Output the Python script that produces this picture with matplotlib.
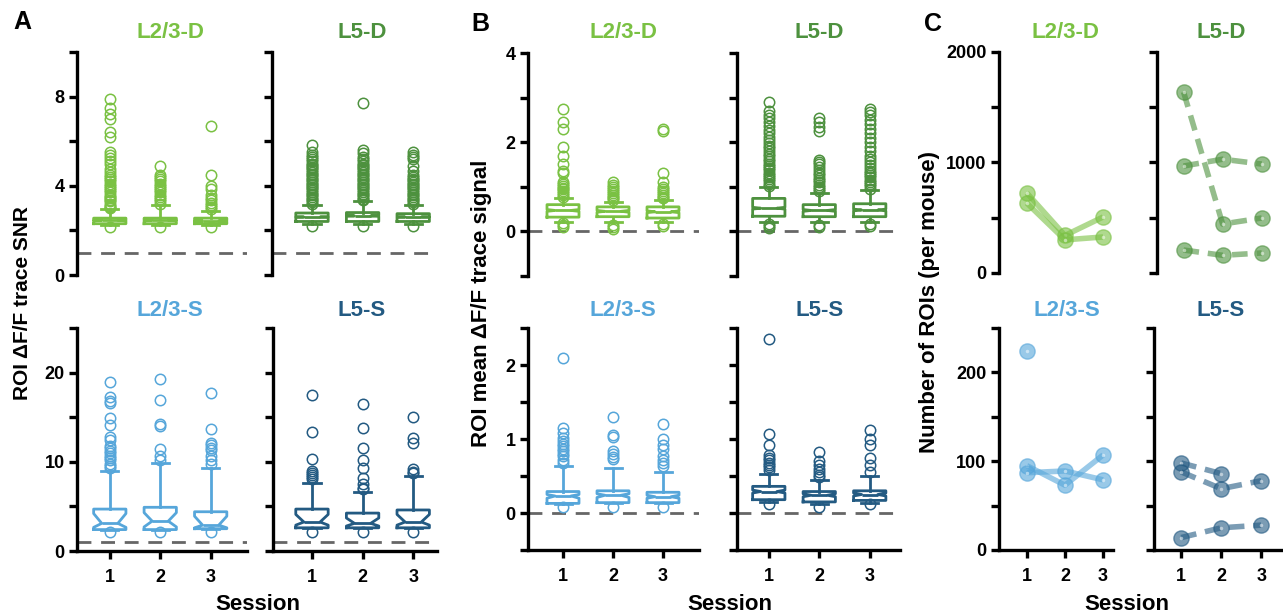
import matplotlib
matplotlib.use('Agg')
import matplotlib.pyplot as plt
from matplotlib.ticker import MultipleLocator

plt.rcParams['font.family'] = ['Liberation Sans', 'DejaVu Sans']
plt.rcParams['font.weight'] = 'bold'
plt.rcParams['axes.labelweight'] = 'bold'

W, H = 1283, 615
sessions = [1, 2, 3]
groups = ['L2/3-D', 'L5-D', 'L2/3-S', 'L5-S']
colors = {'L2/3-D': '#7AC143', 'L5-D': '#4D913E', 'L2/3-S': '#56A6DA', 'L5-S': '#235A82'}

# box stats per session: whislo, q1, cilo, med, cihi, q3, whishi
snr_l23d = [[2.25, 2.3, 2.43, 2.45, 2.47, 2.55, 2.95],
            [2.25, 2.3, 2.43, 2.45, 2.47, 2.55, 3.15],
            [2.25, 2.3, 2.40, 2.42, 2.44, 2.55, 2.85]]
snr_l5d = [[2.3, 2.4, 2.58, 2.6, 2.62, 2.78, 3.15],
           [2.3, 2.4, 2.63, 2.65, 2.67, 2.8, 3.3],
           [2.3, 2.4, 2.58, 2.6, 2.62, 2.75, 3.15]]
snr_l23s = [[2.4, 2.4, 2.65, 3.1, 4.2, 4.7, 9.0],
            [2.4, 2.4, 2.7, 3.35, 4.3, 4.9, 9.9],
            [2.5, 2.5, 2.6, 2.9, 3.9, 4.4, 9.35]]
snr_l5s = [[2.6, 2.6, 2.9, 3.25, 4.1, 4.7, 7.65],
           [2.6, 2.6, 2.8, 3.1, 3.7, 4.25, 6.6],
           [2.6, 2.6, 2.9, 3.25, 4.1, 4.6, 8.4]]

snr_l23d_out = [[2.15, 3.0, 3.05, 3.1, 3.2, 3.3, 3.35, 3.45, 3.5, 3.6, 3.7, 3.8, 3.9, 4.0, 4.1, 4.2,
                 4.3, 4.4, 4.5, 4.6, 4.75, 5.0, 5.1, 5.25, 5.4, 5.5, 6.2, 6.4, 7.0, 7.2, 7.5, 7.9],
                [2.15, 3.2, 3.3, 3.4, 3.5, 3.6, 3.7, 3.8, 3.9, 4.0, 4.1, 4.2, 4.3, 4.4, 4.5, 4.9],
                [2.15, 2.95, 3.05, 3.15, 3.25, 3.35, 3.45, 3.6, 3.85, 4.0, 4.5, 6.7]]
snr_l5d_out = [[2.2, 3.2, 3.28, 3.35, 3.42, 3.5, 3.58, 3.65, 3.72, 3.8, 3.88, 3.95, 4.02, 4.1, 4.18,
                4.25, 4.32, 4.4, 4.48, 4.55, 4.62, 4.7, 4.78, 4.85, 4.92, 5.0, 5.1, 5.2, 5.3, 5.4, 5.5, 5.85],
               [2.2, 3.35, 3.42, 3.5, 3.58, 3.65, 3.72, 3.8, 3.88, 3.95, 4.02, 4.1, 4.18, 4.25, 4.32,
                4.4, 4.48, 4.55, 4.62, 4.7, 4.78, 4.85, 4.92, 5.0, 5.1, 5.2, 5.3, 5.45, 5.6, 7.7],
               [2.2, 3.2, 3.28, 3.35, 3.42, 3.5, 3.58, 3.65, 3.72, 3.8, 3.88, 3.95, 4.02, 4.1, 4.18,
                4.25, 4.32, 4.4, 4.5, 4.65, 4.9, 5.2, 5.3, 5.4, 5.5]]
snr_l23s_out = [[2.1, 9.3, 9.5, 9.8, 10.2, 10.4, 10.7, 11.0, 11.2, 11.5, 11.8, 12.5, 12.8, 14.1, 14.9,
                 16.6, 16.8, 17.3, 18.9],
                [2.1, 10.2, 10.6, 11.4, 14.0, 14.2, 16.9, 19.3],
                [2.1, 9.8, 10.2, 10.6, 11.3, 11.6, 11.9, 12.1, 13.7, 17.7]]
snr_l5s_out = [[2.1, 8.1, 8.3, 8.5, 8.8, 9.0, 10.3, 13.3, 17.5],
               [2.1, 6.9, 7.1, 7.5, 8.2, 9.3, 10.2, 11.6, 13.8, 16.5],
               [2.1, 8.7, 8.9, 9.2, 12.1, 12.7, 15.0]]

sig_l23d = [[0.22, 0.32, 0.45, 0.47, 0.49, 0.6, 0.74],
            [0.2, 0.33, 0.43, 0.45, 0.47, 0.55, 0.67],
            [0.22, 0.3, 0.42, 0.44, 0.46, 0.55, 0.7]]
sig_l5d = [[0.22, 0.34, 0.5, 0.52, 0.54, 0.74, 0.99],
           [0.2, 0.33, 0.45, 0.47, 0.49, 0.6, 0.87],
           [0.2, 0.33, 0.46, 0.48, 0.5, 0.62, 0.93]]
sig_l23s = [[0.12, 0.13, 0.2, 0.23, 0.25, 0.29, 0.64],
            [0.13, 0.14, 0.21, 0.24, 0.26, 0.3, 0.61],
            [0.13, 0.14, 0.2, 0.22, 0.24, 0.28, 0.56]]
sig_l5s = [[0.15, 0.18, 0.27, 0.29, 0.31, 0.36, 0.53],
           [0.12, 0.15, 0.22, 0.24, 0.26, 0.29, 0.45],
           [0.14, 0.17, 0.23, 0.25, 0.27, 0.3, 0.5]]

sig_l23d_out = [[0.1, 0.14, 0.18, 0.78, 0.82, 0.86, 0.9, 0.94, 0.98, 1.02, 1.06, 1.1, 1.3, 1.35, 1.5,
                 1.7, 1.9, 2.3, 2.45, 2.75],
                [0.06, 0.1, 0.14, 0.7, 0.74, 0.78, 0.82, 0.86, 0.9, 0.95, 1.0, 1.05, 1.1],
                [0.12, 0.16, 0.74, 0.78, 0.82, 0.86, 0.9, 0.95, 1.0, 1.1, 1.3, 2.25, 2.3]]
sig_l5d_out = [[0.08, 0.12, 0.16, 1.02, 1.07, 1.12, 1.17, 1.22, 1.27, 1.32, 1.37, 1.42, 1.47, 1.52,
                1.57, 1.62, 1.68, 1.74, 1.8, 1.86, 1.92, 1.98, 2.05, 2.12, 2.2, 2.28, 2.36, 2.45,
                2.55, 2.62, 2.7, 2.9],
               [0.1, 0.15, 0.9, 0.95, 1.0, 1.05, 1.1, 1.15, 1.2, 1.26, 1.32, 1.38, 1.44, 1.5, 1.56,
                1.6, 2.25, 2.35, 2.45, 2.55],
               [0.12, 0.16, 0.96, 1.01, 1.06, 1.11, 1.16, 1.21, 1.26, 1.31, 1.36, 1.42, 1.48, 1.55,
                1.62, 1.7, 1.8, 1.9, 2.0, 2.1, 2.2, 2.3, 2.4, 2.5, 2.6, 2.68, 2.75]]
sig_l23s_out = [[0.08, 0.68, 0.72, 0.77, 0.8, 0.84, 0.87, 0.9, 0.93, 0.97, 1.02, 1.08, 1.15, 2.1],
                [0.08, 0.73, 0.76, 0.8, 0.84, 1.03, 1.05, 1.3],
                [0.08, 0.63, 0.67, 0.72, 0.77, 0.87, 0.92, 1.0, 1.2]]
sig_l5s_out = [[0.12, 0.58, 0.62, 0.65, 0.68, 0.72, 0.75, 0.79, 0.92, 1.07, 2.35],
               [0.08, 0.49, 0.52, 0.56, 0.6, 0.65, 0.7, 0.82],
               [0.12, 0.55, 0.65, 0.75, 0.92, 1.0, 1.12]]

# number of ROIs per mouse, sessions 1-3 (None = no session)
n_l23d = [[724, 340, 507], [633, 300, 326]]
n_l5d = [[1638, 443, 498], [968, 1030, 986], [208, 160, 181]]
n_l23s = [[95, 73, 107], [87, 89, 79], [224, None, None]]
n_l5s = [[98, 86, None], [88, 69, 78], [14, 25, 28]]


def px_axes(fig, l, r, t, b):
    return fig.add_axes([l / W, 1 - b / H, (r - l) / W, (b - t) / H])


def style(ax, ylim, major, minor, show_x, labels=True):
    for s in ['top', 'right']:
        ax.spines[s].set_visible(False)
    ax.spines['left'].set_linewidth(2.4)
    ax.spines['bottom'].set_linewidth(2.4)
    ax.set_ylim(*ylim)
    ax.yaxis.set_major_locator(MultipleLocator(major))
    ax.yaxis.set_minor_locator(MultipleLocator(minor))
    ax.tick_params(axis='both', which='both', length=6, width=2.4, labelsize=13, pad=3)
    if not labels:
        ax.set_yticklabels([])
    if show_x:
        ax.set_xticks(sessions)
        ax.tick_params(axis='x', pad=7)
    else:
        ax.spines['bottom'].set_visible(False)
        ax.set_xticks([])
    ax.patch.set_alpha(0)


def draw_box(ax, box, fliers, color):
    stats = []
    for b, f in zip(box, fliers):
        stats.append({'whislo': b[0], 'q1': b[1], 'cilo': b[2], 'med': b[3], 'cihi': b[4],
                      'q3': b[5], 'whishi': b[6], 'fliers': f})
    lw = 2.0
    ax.bxp(stats, positions=sessions, widths=0.64, capwidths=0.34, shownotches=True,
           boxprops=dict(color=color, linewidth=lw),
           whiskerprops=dict(color=color, linewidth=lw),
           capprops=dict(color=color, linewidth=lw),
           medianprops=dict(color=color, linewidth=lw),
           flierprops=dict(marker='o', markerfacecolor='none', markeredgecolor=color,
                           markersize=7.5, markeredgewidth=1.1))


def draw_counts(ax, counts, color, ls):
    for c in counts:
        y = [v if v is not None else float('nan') for v in c]
        ax.plot(sessions, y, ls=ls, color=color, lw=4, alpha=0.6, marker='o', ms=11,
                dashes=(2.8, 1.6) if ls == '--' else (None, None), solid_capstyle='butt')
        ax.plot(sessions, y, ls='none', marker='o', ms=2.5, mfc='white', mec='none', alpha=0.5)


fig = plt.figure(figsize=(W / 100, H / 100), dpi=100)

# ---- A: SNR ----
a1 = px_axes(fig, 77, 247, 52, 275)
a2 = px_axes(fig, 272, 437, 52, 275)
a3 = px_axes(fig, 77, 247, 328, 551)
a4 = px_axes(fig, 273, 437, 328, 551)
for ax, box, out, g, xl in [(a1, snr_l23d, snr_l23d_out, 'L2/3-D', (0.35, 3.72)),
                            (a2, snr_l5d, snr_l5d_out, 'L5-D', (0.21, 3.47)),
                            (a3, snr_l23s, snr_l23s_out, 'L2/3-S', (0.35, 3.72)),
                            (a4, snr_l5s, snr_l5s_out, 'L5-S', (0.23, 3.47))]:
    ax.axhline(1, color='#666666', lw=2, dashes=(5, 3.5), zorder=0)
    draw_box(ax, box, out, colors[g])
    ax.set_xlim(*xl)
style(a1, (0, 10), 4, 2, False)
style(a2, (0, 10), 4, 2, False, labels=False)
style(a3, (0, 25), 10, 5, True)
style(a4, (0, 25), 10, 5, True, labels=False)

# ---- B: signal ----
b1 = px_axes(fig, 528, 699, 53, 276)
b2 = px_axes(fig, 737, 900, 53, 276)
b3 = px_axes(fig, 528, 699, 328, 550)
b4 = px_axes(fig, 737, 900, 328, 550)
for ax, box, out, g, xl in [(b1, sig_l23d, sig_l23d_out, 'L2/3-D', (0.3, 3.72)),
                            (b2, sig_l5d, sig_l5d_out, 'L5-D', (0.37, 3.6)),
                            (b3, sig_l23s, sig_l23s_out, 'L2/3-S', (0.3, 3.72)),
                            (b4, sig_l5s, sig_l5s_out, 'L5-S', (0.37, 3.6))]:
    ax.axhline(0, color='#666666', lw=2, dashes=(5, 3.5), zorder=0)
    draw_box(ax, box, out, colors[g])
    ax.set_xlim(*xl)
style(b1, (-1, 4), 2, 1, False)
style(b2, (-1, 4), 2, 1, False, labels=False)
style(b3, (-0.5, 2.5), 1, 0.5, True)
style(b4, (-0.5, 2.5), 1, 0.5, True, labels=False)

# ---- C: ROI counts ----
c1 = px_axes(fig, 999, 1113, 52, 273)
c2 = px_axes(fig, 1157, 1282, 52, 273)
c3 = px_axes(fig, 999, 1113, 328, 550)
c4 = px_axes(fig, 1154, 1282, 328, 550)
draw_counts(c1, n_l23d, colors['L2/3-D'], '-')
draw_counts(c2, n_l5d, colors['L5-D'], '--')
draw_counts(c3, n_l23s, colors['L2/3-S'], '-')
draw_counts(c4, n_l5s, colors['L5-S'], '--')
c1.set_xlim(0.27, 3.26)
c2.set_xlim(0.32, 3.52)
c3.set_xlim(0.27, 3.26)
c4.set_xlim(0.32, 3.52)
style(c1, (0, 2000), 1000, 500, False)
style(c2, (0, 2000), 1000, 500, False, labels=False)
style(c3, (0, 250), 100, 50, True)
style(c4, (0, 250), 100, 50, True, labels=False)
for ax in [c1, c2, c3, c4]:
    for ln in ax.lines:
        ln.set_clip_on(False)

# titles
titles = [('L2/3-D', 170, 33), ('L5-D', 362, 33), ('L2/3-S', 170, 311), ('L5-S', 362, 311),
          ('L2/3-D', 623, 33), ('L5-D', 819, 33), ('L2/3-S', 623, 311), ('L5-S', 820, 311),
          ('L2/3-D', 1065, 33), ('L5-D', 1221, 33), ('L2/3-S', 1067, 311), ('L5-S', 1221, 311)]
for t, x, y in titles:
    fig.text(x / W, 1 - y / H, t, color=colors[t], fontsize=16, fontweight='bold',
             ha='center', va='center')

# panel letters
for t, x, y in [('A', 22, 22), ('B', 480, 24), ('C', 933, 24)]:
    fig.text(x / W, 1 - y / H, t, fontsize=18, fontweight='bold', ha='center', va='center')

# axis labels
fig.text(23 / W, 1 - 303 / H, 'ROI ΔF/F trace SNR', rotation=90, fontsize=15,
         fontweight='bold', ha='center', va='center')
fig.text(482 / W, 1 - 303 / H, 'ROI mean ΔF/F trace signal', rotation=90, fontsize=16,
         fontweight='bold', ha='center', va='center')
fig.text(929 / W, 1 - 302 / H, 'Number of ROIs (per mouse)', rotation=90, fontsize=16,
         fontweight='bold', ha='center', va='center')
for x in [258, 730, 1127]:
    fig.text(x / W, 1 - 604 / H, 'Session', fontsize=16, fontweight='bold',
             ha='center', va='center')

fig.savefig('out.png', dpi=100)
